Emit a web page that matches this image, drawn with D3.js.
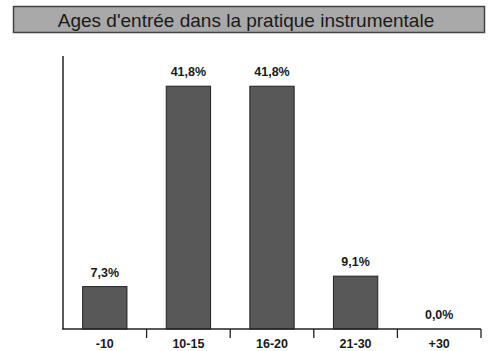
<!DOCTYPE html>
<html>
<head>
<meta charset="utf-8">
<script src="https://cdn.jsdelivr.net/npm/d3@7"></script>
<style>
  html, body { margin: 0; padding: 0; background: #fff; }
  svg { display: block; }
</style>
</head>
<body>
<svg id="chart" width="493" height="351"></svg>
<script>
// Age groups at which respondents started playing an instrument
const categories = ["-10", "10-15", "16-20", "21-30", "+30"];
const shares = [7.3, 41.8, 41.8, 9.1, 0.0];
const valueLabels = ["7,3%", "41,8%", "41,8%", "9,1%", "0,0%"];
const title = "Ages d'entrée dans la pratique instrumentale";

const svg = d3.select("#chart");
const font = "Arial, 'Liberation Sans', sans-serif";

// Title banner
svg.append("rect")
  .attr("x", 13.5).attr("y", 6.5)
  .attr("width", 471).attr("height", 26)
  .attr("fill", "#a9a9a9")
  .attr("stroke", "#444").attr("stroke-width", 1.5);
svg.append("text")
  .attr("x", 246).attr("y", 26.5)
  .attr("text-anchor", "middle")
  .attr("font-family", font)
  .attr("font-size", 19)
  .attr("fill", "#1a1a1a")
  .text(title);

const plotLeft = 63, plotRight = 480, plotTop = 56, plotBottom = 329;

const x = d3.scaleBand()
  .domain(categories)
  .range([plotLeft, plotRight + 1])
  .paddingInner(0.47)
  .paddingOuter(0.235);

const xBand = d3.scaleBand().domain(categories).range([plotLeft, plotRight + 1]);

const y = d3.scaleLinear()
  .domain([0, 47])
  .range([plotBottom, plotTop]);

// Bars
svg.append("g").selectAll("rect")
  .data(categories)
  .join("rect")
  .attr("x", (d) => x(d))
  .attr("width", x.bandwidth())
  .attr("y", (d, i) => y(shares[i]))
  .attr("height", (d, i) => plotBottom - y(shares[i]))
  .attr("fill", "#585858")
  .attr("stroke", "#222")
  .attr("stroke-width", 1)
  .attr("visibility", (d, i) => shares[i] > 0 ? "visible" : "hidden");

// Value labels above bars
svg.append("g").selectAll("text")
  .data(categories)
  .join("text")
  .attr("x", (d) => x(d) + x.bandwidth() / 2)
  .attr("y", (d, i) => y(shares[i]) - 10)
  .attr("text-anchor", "middle")
  .attr("font-family", font)
  .attr("font-size", 12.5)
  .attr("font-weight", "bold")
  .attr("fill", "#1a1a1a")
  .text((d, i) => valueLabels[i]);

// Y axis line (no ticks)
svg.append("line")
  .attr("x1", plotLeft).attr("x2", plotLeft)
  .attr("y1", plotTop).attr("y2", plotBottom)
  .attr("stroke", "#222").attr("stroke-width", 1.5);

// X axis with tick marks between the groups
const xAxis = svg.append("g")
  .attr("transform", `translate(0,${plotBottom})`);
xAxis.append("line")
  .attr("x1", plotLeft - 1).attr("x2", plotRight + 1)
  .attr("y1", 0).attr("y2", 0)
  .attr("stroke", "#222").attr("stroke-width", 1.5);
xAxis.selectAll("line.tick")
  .data(categories)
  .join("line")
  .attr("class", "tick")
  .attr("x1", (d) => xBand(d) + xBand.bandwidth())
  .attr("x2", (d) => xBand(d) + xBand.bandwidth())
  .attr("y1", 0).attr("y2", 9)
  .attr("stroke", "#222").attr("stroke-width", 1.3);
xAxis.selectAll("text")
  .data(categories)
  .join("text")
  .attr("x", (d) => xBand(d) + xBand.bandwidth() / 2)
  .attr("y", 18.5)
  .attr("text-anchor", "middle")
  .attr("font-family", font)
  .attr("font-size", 12.5)
  .attr("font-weight", "bold")
  .attr("fill", "#1a1a1a")
  .text((d) => d);
</script>
</body>
</html>
